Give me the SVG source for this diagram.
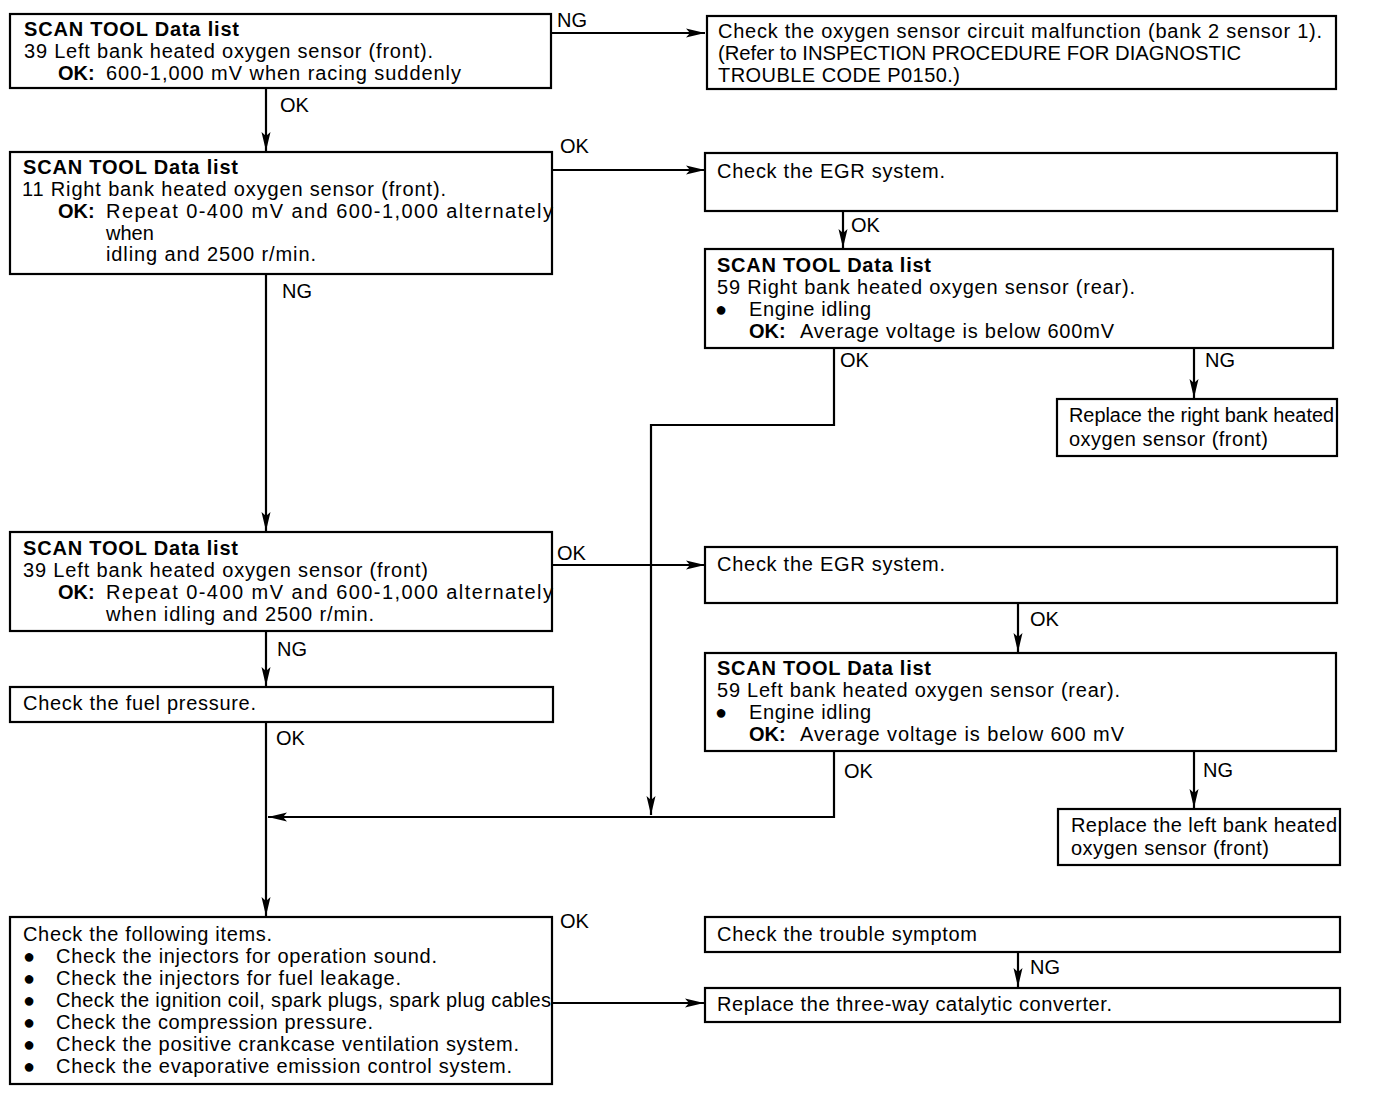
<svg xmlns="http://www.w3.org/2000/svg" width="1376" height="1106" viewBox="0 0 1376 1106">
<style>
.box{fill:#fff;stroke:#000;stroke-width:2.2}
.ln{fill:none;stroke:#000;stroke-width:2.2}
text{font-family:"Liberation Sans",Arial,Helvetica,sans-serif;font-size:20px;fill:#000}
.b{font-weight:bold}
.bul{font-size:20px}
</style>
<defs>
<marker id="ah" markerUnits="userSpaceOnUse" markerWidth="20" markerHeight="12" refX="19" refY="6" orient="auto">
<path d="M0,1.5 L19,6 L0,10.5 L4,6 z" fill="#000"/>
</marker>
</defs>
<rect width="1376" height="1106" fill="#fff"/>

<g id="connectors">
<line class="ln" x1="551" y1="33" x2="705" y2="33" marker-end="url(#ah)"/>
<line class="ln" x1="266" y1="88" x2="266" y2="151" marker-end="url(#ah)"/>
<line class="ln" x1="552" y1="170" x2="705" y2="170" marker-end="url(#ah)"/>
<line class="ln" x1="843" y1="211" x2="843" y2="248" marker-end="url(#ah)"/>
<polyline class="ln" points="834,348 834,425 651,425 651,815" marker-end="url(#ah)"/>
<line class="ln" x1="1194" y1="348" x2="1194" y2="398" marker-end="url(#ah)"/>
<line class="ln" x1="266" y1="274" x2="266" y2="531" marker-end="url(#ah)"/>
<line class="ln" x1="552" y1="565" x2="705" y2="565" marker-end="url(#ah)"/>
<line class="ln" x1="1018" y1="603" x2="1018" y2="652" marker-end="url(#ah)"/>
<polyline class="ln" points="834,751 834,817 268,817" marker-end="url(#ah)"/>
<line class="ln" x1="1194" y1="751" x2="1194" y2="808" marker-end="url(#ah)"/>
<line class="ln" x1="266" y1="631" x2="266" y2="686" marker-end="url(#ah)"/>
<line class="ln" x1="266" y1="722" x2="266" y2="916" marker-end="url(#ah)"/>
<line class="ln" x1="552" y1="1003" x2="704" y2="1003" marker-end="url(#ah)"/>
<line class="ln" x1="1018" y1="952" x2="1018" y2="987" marker-end="url(#ah)"/>
<text x="557" y="27">NG</text>
<text x="280" y="112">OK</text>
<text x="560" y="153">OK</text>
<text x="851" y="232">OK</text>
<text x="840" y="367">OK</text>
<text x="1205" y="367">NG</text>
<text x="282" y="298">NG</text>
<text x="557" y="560">OK</text>
<text x="1030" y="626">OK</text>
<text x="844" y="778">OK</text>
<text x="1203" y="777">NG</text>
<text x="277" y="656">NG</text>
<text x="276" y="745">OK</text>
<text x="560" y="928">OK</text>
<text x="1030" y="974">NG</text>
</g>

<g id="n1">
<rect class="box" x="10" y="14" width="541" height="74"/>
<text class="b" x="24" y="36" textLength="215" lengthAdjust="spacing">SCAN TOOL Data list</text>
<text x="24" y="58" textLength="409" lengthAdjust="spacing">39 Left bank heated oxygen sensor (front).</text>
<text class="b" x="58" y="80">OK:</text>
<text x="106" y="80" textLength="355" lengthAdjust="spacing">600-1,000 mV when racing suddenly</text>
</g>

<g id="n2">
<rect class="box" x="707" y="16" width="629" height="73"/>
<text x="718" y="38" textLength="604" lengthAdjust="spacing">Check the oxygen sensor circuit malfunction (bank 2 sensor 1).</text>
<text x="718" y="60" textLength="523" lengthAdjust="spacingAndGlyphs">(Refer to INSPECTION PROCEDURE FOR DIAGNOSTIC</text>
<text x="718" y="82" textLength="242" lengthAdjust="spacing">TROUBLE CODE P0150.)</text>
</g>

<g id="n3">
<rect class="box" x="10" y="152" width="542" height="122"/>
<text class="b" x="23" y="174" textLength="215" lengthAdjust="spacing">SCAN TOOL Data list</text>
<text x="22" y="196" textLength="424" lengthAdjust="spacing">11 Right bank heated oxygen sensor (front).</text>
<text class="b" x="58" y="218">OK:</text>
<text x="106" y="218" textLength="447" lengthAdjust="spacing">Repeat 0-400 mV and 600-1,000 alternately</text>
<text x="106" y="240">when</text>
<text x="106" y="261" textLength="210" lengthAdjust="spacing">idling and 2500 r/min.</text>
</g>

<g id="n4">
<rect class="box" x="705" y="153" width="632" height="58"/>
<text x="717" y="178" textLength="228" lengthAdjust="spacing">Check the EGR system.</text>
</g>

<g id="n5">
<rect class="box" x="705" y="249" width="628" height="99"/>
<text class="b" x="717" y="272" textLength="214" lengthAdjust="spacing">SCAN TOOL Data list</text>
<text x="717" y="294" textLength="418" lengthAdjust="spacing">59 Right bank heated oxygen sensor (rear).</text>
<text class="bul" x="715" y="316">●</text>
<text x="749" y="316" textLength="122" lengthAdjust="spacing">Engine idling</text>
<text class="b" x="749" y="338">OK:</text>
<text x="800" y="338" textLength="314" lengthAdjust="spacing">Average voltage is below 600mV</text>
</g>

<g id="n6">
<rect class="box" x="1057" y="399" width="280" height="57"/>
<text x="1069" y="422" textLength="265" lengthAdjust="spacingAndGlyphs">Replace the right bank heated</text>
<text x="1069" y="446" textLength="199" lengthAdjust="spacing">oxygen sensor (front)</text>
</g>

<g id="n7">
<rect class="box" x="10" y="532" width="542" height="99"/>
<text class="b" x="23" y="555" textLength="215" lengthAdjust="spacing">SCAN TOOL Data list</text>
<text x="23" y="577" textLength="405" lengthAdjust="spacing">39 Left bank heated oxygen sensor (front)</text>
<text class="b" x="58" y="599">OK:</text>
<text x="106" y="599" textLength="447" lengthAdjust="spacing">Repeat 0-400 mV and 600-1,000 alternately</text>
<text x="106" y="621" textLength="268" lengthAdjust="spacing">when idling and 2500 r/min.</text>
</g>

<g id="n8">
<rect class="box" x="705" y="547" width="632" height="56"/>
<text x="717" y="571" textLength="228" lengthAdjust="spacing">Check the EGR system.</text>
</g>

<g id="n9">
<rect class="box" x="705" y="653" width="631" height="98"/>
<text class="b" x="717" y="675" textLength="214" lengthAdjust="spacing">SCAN TOOL Data list</text>
<text x="717" y="697" textLength="403" lengthAdjust="spacing">59 Left bank heated oxygen sensor (rear).</text>
<text class="bul" x="715" y="719">●</text>
<text x="749" y="719" textLength="122" lengthAdjust="spacing">Engine idling</text>
<text class="b" x="749" y="741">OK:</text>
<text x="800" y="741" textLength="324" lengthAdjust="spacing">Average voltage is below 600 mV</text>
</g>

<g id="n10">
<rect class="box" x="1058" y="809" width="282" height="56"/>
<text x="1071" y="832" textLength="266" lengthAdjust="spacing">Replace the left bank heated</text>
<text x="1071" y="855" textLength="198" lengthAdjust="spacing">oxygen sensor (front)</text>
</g>

<g id="n11">
<rect class="box" x="10" y="687" width="543" height="35"/>
<text x="23" y="710" textLength="233" lengthAdjust="spacing">Check the fuel pressure.</text>
</g>

<g id="n12">
<rect class="box" x="10" y="917" width="542" height="167"/>
<text x="23" y="941" textLength="249" lengthAdjust="spacing">Check the following items.</text>
<text class="bul" x="23" y="963">●</text>
<text x="56" y="963" textLength="381" lengthAdjust="spacing">Check the injectors for operation sound.</text>
<text class="bul" x="23" y="985">●</text>
<text x="56" y="985" textLength="345" lengthAdjust="spacing">Check the injectors for fuel leakage.</text>
<text class="bul" x="23" y="1007">●</text>
<text x="56" y="1007" textLength="495" lengthAdjust="spacing">Check the ignition coil, spark plugs, spark plug cables</text>
<text class="bul" x="23" y="1029">●</text>
<text x="56" y="1029" textLength="317" lengthAdjust="spacing">Check the compression pressure.</text>
<text class="bul" x="23" y="1051">●</text>
<text x="56" y="1051" textLength="463" lengthAdjust="spacing">Check the positive crankcase ventilation system.</text>
<text class="bul" x="23" y="1073">●</text>
<text x="56" y="1073" textLength="456" lengthAdjust="spacing">Check the evaporative emission control system.</text>
</g>

<g id="n13">
<rect class="box" x="705" y="917" width="635" height="35"/>
<text x="717" y="941" textLength="260" lengthAdjust="spacing">Check the trouble symptom</text>
</g>

<g id="n14">
<rect class="box" x="705" y="988" width="635" height="34"/>
<text x="717" y="1011" textLength="395" lengthAdjust="spacing">Replace the three-way catalytic converter.</text>
</g>
</svg>
